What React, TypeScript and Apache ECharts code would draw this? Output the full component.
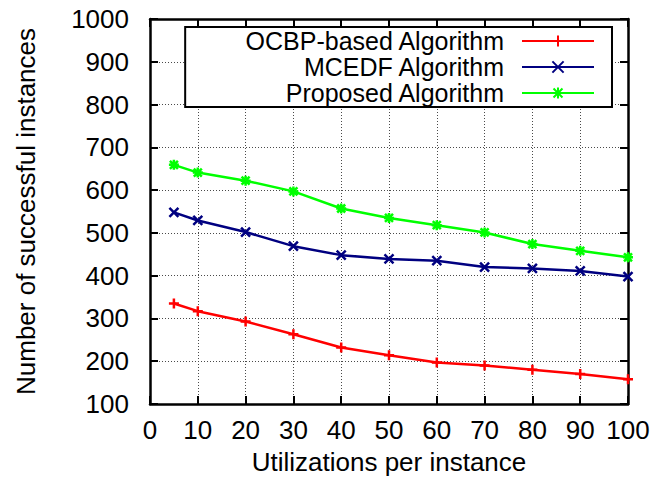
import React, { useEffect, useRef } from "react";
import * as echarts from "echarts";

const xValues = [5, 10, 20, 30, 40, 50, 60, 70, 80, 90, 100];
const ocbpValues = [335, 317, 293, 263, 232, 214, 197, 190, 180, 170, 158];
const mcedfValues = [548, 529, 502, 469, 448, 439, 435, 420, 417, 411, 398];
const proposedValues = [659, 641, 622, 597, 557, 535, 518, 501, 474, 458, 443];
const seriesNames = ["OCBP-based Algorithm", "MCEDF Algorithm", "Proposed Algorithm"];
const xTitle = "Utilizations per instance";
const yTitle = "Number of successful instances";

const FONT = "'Liberation Sans', Arial, Helvetica, sans-serif";
const FS = 26;
const LEGEND_FS = 25;

const SYM_PLUS = "path://M0,5L10,5M5,0L5,10";
const SYM_CROSS = "path://M0,0L10,10M0,10L10,0";
const SYM_STAR = "path://M0,5L10,5M5,0L5,10M1,1L9,9M1,9L9,1";

export default function App() {
  const ref = useRef<HTMLDivElement>(null);
  useEffect(() => {
    if (!ref.current) return;
    const chart = echarts.init(ref.current, undefined, { renderer: "svg" });
    const pairs = (vals: number[]) => xValues.map((x, i) => [x, vals[i]]);
    const axisLine = { show: true, onZero: false, lineStyle: { color: "#000", width: 2.5 } };
    const axisTick = { show: true, inside: true, length: 8, lineStyle: { color: "#000", width: 2 } };
    const split = { show: true, lineStyle: { color: "#4a4a4a", width: 1, type: [1, 2] } };
    const plain = (v: number) => String(v);
    const mkSeries = (name: string, vals: number[], color: string, symbol: string, size: number) => ({
      name,
      type: "line",
      data: pairs(vals),
      symbol,
      symbolSize: size,
      showAllSymbol: true,
      lineStyle: { color, width: 2.5 },
      itemStyle: { color, borderColor: color, borderWidth: 2.5 },
      emphasis: { disabled: true },
      z: 3,
    });
    chart.setOption({
      animation: false,
      backgroundColor: "#fff",
      textStyle: { fontFamily: FONT },
      grid: { left: 150, right: 26, top: 19, bottom: 82, containLabel: false },
      xAxis: [
        {
          type: "value",
          position: "bottom",
          min: 0,
          max: 100,
          interval: 10,
          axisLine,
          axisTick,
          axisLabel: { fontSize: FS, color: "#000", margin: 13, fontFamily: FONT, formatter: plain },
          splitLine: split,
          name: xTitle,
          nameLocation: "middle",
          nameGap: 45,
          nameTextStyle: { fontSize: FS, color: "#000", fontFamily: FONT },
        },
        {
          type: "value",
          position: "top",
          min: 0,
          max: 100,
          interval: 10,
          axisLine,
          axisTick,
          axisLabel: { show: false },
          splitLine: { show: false },
        },
      ],
      yAxis: [
        {
          type: "value",
          position: "left",
          min: 100,
          max: 1000,
          interval: 100,
          axisLine,
          axisTick,
          axisLabel: { fontSize: FS, color: "#000", margin: 21, fontFamily: FONT, formatter: plain },
          splitLine: split,
          name: yTitle,
          nameLocation: "middle",
          nameGap: 111,
          nameTextStyle: { fontSize: FS, color: "#000", fontFamily: FONT },
        },
        {
          type: "value",
          position: "right",
          min: 100,
          max: 1000,
          interval: 100,
          axisLine,
          axisTick,
          axisLabel: { show: false },
          splitLine: { show: false },
        },
      ],
      legend: {
        orient: "vertical",
        right: 42,
        top: 27,
        align: "right",
        itemWidth: 72,
        itemHeight: 14,
        itemGap: 0,
        padding: [1, 17, 1, 59],
        borderColor: "#000",
        borderWidth: 2,
        borderRadius: 0,
        backgroundColor: "#fff",
        selectedMode: false,
        textStyle: { fontSize: LEGEND_FS, color: "#000", fontFamily: FONT, lineHeight: 26, padding: [0, 13, 0, 0] },
        data: seriesNames,
        z: 5,
      },
      series: [
        mkSeries(seriesNames[0], ocbpValues, "#ff0000", SYM_PLUS, 10),
        mkSeries(seriesNames[1], mcedfValues, "#000080", SYM_CROSS, 9),
        mkSeries(seriesNames[2], proposedValues, "#00ff00", SYM_STAR, 10),
      ],
    });
    return () => chart.dispose();
  }, []);
  return <div ref={ref} style={{ width: 654, height: 486, position: "absolute", left: 0, top: 0 }} />;
}
